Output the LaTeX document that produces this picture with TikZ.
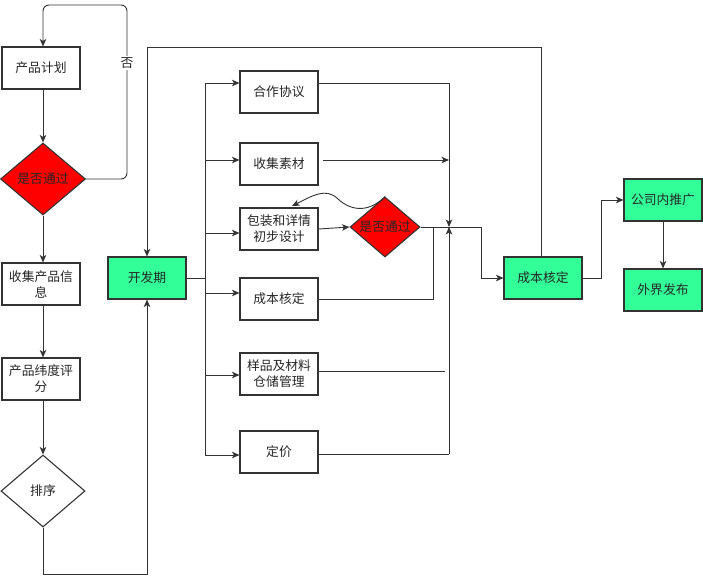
\documentclass[tikz,border=0pt]{standalone}
\usepackage{fontspec}
\setmainfont{Noto Sans CJK SC}
\usetikzlibrary{shapes.geometric,arrows.meta}
\definecolor{lc}{HTML}{333333}
\definecolor{gfill}{HTML}{33FF99}
\tikzset{
  box/.style={draw=lc, line width=1.1pt, minimum width=78pt, minimum height=42pt, inner sep=1pt, align=center, font=\fontsize{12.8}{16}\selectfont, text=black!85},
  gbox/.style={box, fill=gfill},
  dia/.style={draw=lc, line width=1.1pt, shape=diamond, inner sep=0pt, aspect=1.2, align=center, font=\fontsize{12.8}{16}\selectfont, text=black!85},
  ln/.style={draw=lc, line width=0.9pt},
  arr/.style={ln, -{Stealth[length=7.5pt,width=6.5pt,inset=2pt]}},
}
\begin{document}
\begin{tikzpicture}[x=1pt,y=-1pt]
\useasboundingbox (0,0) rectangle (703,576);
% left column
\node[box] (pp) at (41,68) {产品计划};
\node[dia, fill=red, minimum width=85pt, minimum height=72pt] (d1) at (43,179) {是否通过};
\node[box] (sj) at (41,284) {收集产品信\\息};
\node[box] (wd) at (41,379) {产品纬度评\\分};
\node[dia, fill=white, minimum width=84pt, minimum height=72pt] (px) at (43,491) {排序};
% development
\node[gbox] (kf) at (147,278) {开发期};
% middle column
\node[box] (hz) at (279,92) {合作协议};
\node[box] (sc) at (279,164) {收集素材};
\node[box] (bz) at (279,229) {包装和详情\\初步设计};
\node[dia, fill=red, minimum width=70pt, minimum height=60pt] (d2) at (385,227) {是否通过};
\node[box] (cb) at (279,299) {成本核定};
\node[box] (yp) at (279,374) {样品及材料\\仓储管理};
\node[box] (dj) at (279,452) {定价};
% right
\node[gbox] (cbg) at (543,278) {成本核定};
\node[gbox] (tg) at (663,200) {公司内推广};
\node[gbox] (wj) at (663,290) {外界发布};

% coordinates
\coordinate (loopR) at (127,179);
\coordinate (loopT) at (127,5);
\coordinate (botL) at (43,574);
\coordinate (botR) at (147,574);
\coordinate (topR) at (541,47);
\coordinate (topL) at (147,47);
\coordinate (busT) at (205,83);
\coordinate (busB) at (205,455);
\coordinate (busM) at (205,278);
\coordinate (rT) at (449,83);
\coordinate (rM) at (449,227);
\coordinate (rB) at (449,454);
\coordinate (j1) at (481,227);
\coordinate (j2) at (433,227);
\coordinate (yend) at (445,371);

% left flow
\draw[arr] (pp.south -| d1) -- (d1);
\draw[arr, rounded corners=6pt] (d1.east) -- (loopR) -- (loopT) -- (loopT -| d1) -- (pp.north -| d1);
\node[fill=white, inner sep=1pt, font=\fontsize{12.8}{14}\selectfont, text=black!85] (no) at (127,63) {否};
\draw[arr] (d1) -- (sj.north -| d1);
\draw[arr] (sj.south -| d1) -- (wd.north -| d1);
\draw[arr] (wd.south -| d1) -- (px);
\draw[arr] (px.south) -- (botL) -- (botR) -- (kf.south);
\draw[arr] (cbg.north -| topR) -- (topR) -- (topL) -- (kf.north);

% bus
\draw[ln] (kf.east) -- (busM);
\draw[ln] (busT) -- (busB);
\draw[arr] (busT) -- (hz.west |- busT);
\draw[arr] (205,160) -- (sc.west |- 0,160);
\draw[arr] (205,233) -- (bz.west |- 0,233);
\draw[arr] (205,293) -- (cb.west |- 0,293);
\draw[arr] (205,375) -- (yp.west |- 0,375);
\draw[arr] (205,455) -- (dj.west |- 0,455);

% right collector
\draw[ln] (hz.east |- rT) -- (rT);
\draw[arr] (rT) -- (rM);
\draw[arr] (sc.east) ++(4,-4) -- (449,160);
\draw[ln] (dj.east |- rB) -- (rB);
\draw[arr] (rB) -- (rM);
\draw[ln] (yp.east |- yend) -- (yend);
\draw[arr] (bz.east) -- (d2.west);
\draw[ln] (cb.east) -- (cb.east -| j2) -- (j2);
\draw[arr] (d2.east) -- (j1) |- (cbg.west);
\draw[arr] (d2.north) .. controls (370,212) and (352,212) .. (338,199) .. controls (326,187) and (312,196) .. (292,206);
% outputs
\draw[arr] (cbg.east) -- ++(19,0) |- (tg.west);
\draw[arr] (tg) -- (wj);
\end{tikzpicture}
\end{document}
